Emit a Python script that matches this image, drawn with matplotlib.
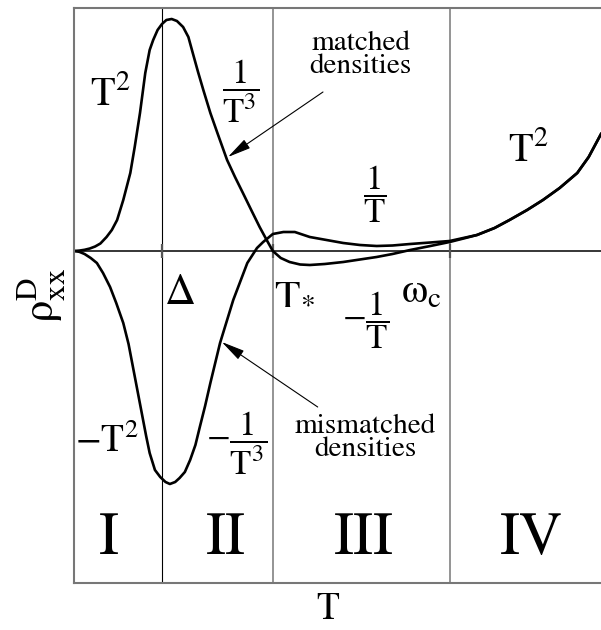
import matplotlib
matplotlib.use('Agg')
import matplotlib.pyplot as plt

plt.rcParams['font.family'] = ['STIXGeneral', 'DejaVu Serif']
plt.rcParams['mathtext.fontset'] = 'stix'

# region boundaries on the T axis: Delta, T_*, omega_c
boundaries = [1.0, 2.26, 4.27]
region_names = ['I', 'II', 'III', 'IV']
region_x = [0.40, 1.73, 3.30, 5.20]

# matched densities curve
matched_T = [0.00, 0.06, 0.12, 0.18, 0.24, 0.30, 0.37, 0.43, 0.49, 0.56, 0.64, 0.69,
             0.75, 0.81, 0.86, 0.90, 0.95, 1.00, 1.05, 1.11, 1.17, 1.24, 1.30, 1.35,
             1.41, 1.47, 1.55, 1.63, 1.74, 1.83, 1.92, 2.02, 2.11, 2.19, 2.26, 2.35,
             2.45, 2.57, 2.68, 2.85, 3.06, 3.25, 3.44, 3.62, 3.82, 4.05, 4.27, 4.45,
             4.58, 4.78, 4.95, 5.15, 5.33, 5.52, 5.72, 5.85, 5.99]
matched_rho = [0.00, 0.004, 0.012, 0.025, 0.045, 0.075, 0.14, 0.21, 0.31, 0.51, 0.78, 1.04,
               1.38, 1.78, 2.01, 2.11, 2.21, 2.27, 2.31, 2.32, 2.30, 2.24, 2.14, 1.98,
               1.79, 1.61, 1.38, 1.18, 0.91, 0.74, 0.58, 0.40, 0.24, 0.11, 0.00, -0.07,
               -0.11, -0.135, -0.14, -0.13, -0.11, -0.085, -0.06, -0.03, 0.01, 0.05, 0.09, 0.13,
               0.16, 0.23, 0.31, 0.41, 0.51, 0.63, 0.78, 0.94, 1.17]

# mismatched densities curve
mismatched_T = [0.00, 0.06, 0.12, 0.19, 0.26, 0.33, 0.41, 0.48, 0.56, 0.62, 0.67, 0.72,
                0.77, 0.82, 0.86, 0.92, 0.98, 1.04, 1.09, 1.15, 1.20, 1.26, 1.32, 1.38,
                1.43, 1.49, 1.55, 1.66, 1.81, 1.97, 2.08, 2.15, 2.26, 2.38, 2.51, 2.68,
                2.87, 3.06, 3.25, 3.44, 3.62, 3.82, 4.05, 4.27, 4.45, 4.58, 4.78, 4.95,
                5.15, 5.33, 5.52, 5.72, 5.85, 5.99]
mismatched_rho = [0.00, -0.008, -0.03, -0.07, -0.12, -0.22, -0.36, -0.52, -0.72, -0.93, -1.16, -1.39,
                  -1.62, -1.85, -2.02, -2.19, -2.26, -2.31, -2.33, -2.31, -2.27, -2.21, -2.09, -1.94,
                  -1.76, -1.55, -1.32, -0.92, -0.49, -0.12, 0.03, 0.09, 0.17, 0.19, 0.19, 0.14,
                  0.11, 0.08, 0.06, 0.05, 0.055, 0.07, 0.085, 0.10, 0.135, 0.16, 0.23, 0.31,
                  0.41, 0.51, 0.63, 0.78, 0.94, 1.17]

fig = plt.figure(figsize=(6.01, 6.30), dpi=100)
ax = fig.add_axes([74 / 601, 47 / 630, 527 / 601, 575 / 630])
ax.set_xlim(0, 5.99)
ax.set_ylim(-3.32, 2.43)

for side in ['left', 'top', 'bottom']:
    ax.spines[side].set_color('#777777')
    ax.spines[side].set_linewidth(1.5)
ax.spines['right'].set_visible(False)
ax.set_xticks([])
ax.set_yticks([])

# region boundaries and zero line
ax.axvline(boundaries[0], color='black', lw=0.8)
for b in boundaries[1:]:
    ax.axvline(b, color='#777777', lw=1.1)
ax.axhline(0, color='black', lw=1.1)
ax.vlines(boundaries, -0.07, 0.07, color='#555555', lw=1.6)

ax.plot(matched_T, matched_rho, color='black', lw=1.9, solid_joinstyle='round')
ax.plot(mismatched_T, mismatched_rho, color='black', lw=1.9, solid_joinstyle='round')

# labels on the curves
fs = 25
ax.text(0.41, 1.56, r'$\mathrm{T}^2$', fontsize=29, ha='center', va='center')
ax.text(1.89, 1.60, r'$\dfrac{1}{\mathrm{T}^3}$', fontsize=fs, ha='center', va='center')
ax.text(3.42, 0.57, r'$\dfrac{1}{\mathrm{T}}$', fontsize=fs, ha='center', va='center')
ax.text(5.16, 1.00, r'$\mathrm{T}^2$', fontsize=29, ha='center', va='center')
ax.text(0.375, -1.91, r'$-\mathrm{T}^2$', fontsize=27, ha='center', va='center')
ax.text(1.85, -1.92, r'$-\dfrac{1}{\mathrm{T}^3}$', fontsize=fs, ha='center', va='center')
ax.text(3.31, -0.69, r'$-\dfrac{1}{\mathrm{T}}$', fontsize=fs, ha='center', va='center')

ax.text(1.20, -0.43, r'$\Delta$', fontsize=31, ha='center', va='center')
ax.text(2.50, -0.43, r'$\mathrm{T}_{{*}}$', fontsize=30, ha='center', va='center')
ax.text(3.95, -0.42, r'$\mathrm{\omega}_\mathrm{c}$', fontsize=30, ha='center', va='center')

ax.text(3.26, 1.96, 'matched\ndensities', fontsize=21, ha='center', va='center',
        linespacing=0.85)
ax.text(3.31, -1.87, 'mismatched\ndensities', fontsize=21, ha='center', va='center',
        linespacing=0.85)

arrow = dict(arrowstyle='-|>,head_length=0.9,head_width=0.2', color='black',
             lw=0.8, shrinkA=0, shrinkB=0, mutation_scale=16)
ax.annotate('', xy=(1.75, 0.94), xytext=(2.83, 1.59), arrowprops=arrow)
ax.annotate('', xy=(1.68, -0.91), xytext=(2.77, -1.56), arrowprops=arrow)

for name, x in zip(region_names, region_x):
    ax.text(x, -2.89, name, fontsize=43, ha='center', va='center')

# x label placed by hand so it stays inside the figure
fig.text(328 / 601, 0.004, 'T', fontsize=27, ha='center', va='bottom')
ax.set_ylabel(r'$\mathrm{\rho}^{\mathrm{D}}_{\mathrm{xx}}$', fontsize=32, labelpad=4)

plt.savefig('out.png', dpi=100)
